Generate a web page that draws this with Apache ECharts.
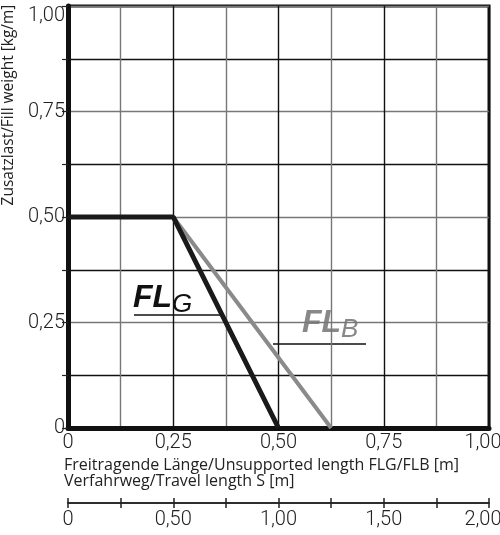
<!DOCTYPE html>
<html>
<head>
<meta charset="utf-8">
<script src="https://cdn.jsdelivr.net/npm/echarts@6/dist/echarts.min.js"></script>
<style>
  html, body { margin: 0; padding: 0; background: #fff; }
  #chart { width: 500px; height: 535px; }
</style>
</head>
<body>
<div id="chart"></div>
<script>
// FL_G (black) and FL_B (gray) curves
const flgX = [0, 0.25, 0.5];
const flgY = [0.5, 0.5, 0];
const flbX = [0.25, 0.625];
const flbY = [0.5, 0];

const xTickLabels = ['0', '0,25', '0,50', '0,75', '1,00'];
const yTickLabels = ['0', '0,25', '0,50', '0,75', '1,00'];
const travelTickLabels = ['0', '0,50', '1,00', '1,50', '2,00'];

const numFont = 'Roboto';

// label only every second tick (ticks are at eighths); last one nudged left
function pick(labels, step, nudgeLast) {
  return function (v) {
    let i = Math.round(v / step);
    if (i % 2 !== 0) return '';
    let k = i / 2;
    let s = labels[k] || '';
    if (nudgeLast && k === labels.length - 1) return '{r|' + s + '}';
    return s;
  };
}

const numLabel = { color: '#222', fontFamily: numFont, fontWeight: 300, fontSize: 20 };
const lastRich = { r: Object.assign({ padding: [0, 12, 0, 0] }, numLabel) };

let chart = echarts.init(document.getElementById('chart'));

chart.setOption({
  animation: false,
  grid: [
    { left: 68, right: 11, top: 6, bottom: 107, outerBoundsMode: 'none', show: true, borderColor: '#111', borderWidth: 3, backgroundColor: 'transparent' },
    { left: 68, right: 11, top: 502, height: 1, outerBoundsMode: 'none' }
  ],
  xAxis: [
    {
      gridIndex: 0, type: 'value', min: 0, max: 1, interval: 0.125,
      axisLine: { onZero: false, lineStyle: { color: '#111', width: 5 } },
      axisTick: { show: false },
      axisLabel: Object.assign({ interval: 0, formatter: pick(xTickLabels, 0.125, true), margin: 5, rich: lastRich }, numLabel),
      splitLine: { show: true, lineStyle: { color: ['#111', '#777'], width: 1.4 } }
    },
    {
      gridIndex: 1, type: 'value', min: 0, max: 2, interval: 0.25,
      axisLine: { lineStyle: { color: '#222', width: 1.5 } },
      axisTick: { inside: true, length: 5, lineStyle: { color: '#222', width: 1.5 } },
      axisLabel: { show: false },
      splitLine: { show: false }
    },
    {
      gridIndex: 1, type: 'value', min: 0, max: 2, interval: 0.25, position: 'bottom',
      axisLine: { lineStyle: { color: '#222', width: 1.5 } },
      axisTick: { length: 5, lineStyle: { color: '#222', width: 1.5 } },
      axisLabel: Object.assign({ interval: 0, formatter: pick(travelTickLabels, 0.25, true), margin: 7, rich: lastRich }, numLabel),
      splitLine: { show: false }
    }
  ],
  yAxis: [
    {
      gridIndex: 0, type: 'value', min: 0, max: 1, interval: 0.125,
      axisLine: { onZero: false, lineStyle: { color: '#111', width: 5 } },
      axisTick: { show: true, length: 6, lineStyle: { color: '#222', width: 1.2 } },
      axisLabel: Object.assign({ interval: 0, formatter: pick(yTickLabels, 0.125, false), margin: 3, verticalAlignMaxLabel: 'top' }, numLabel),
      splitLine: { show: true, lineStyle: { color: ['#777', '#111'], width: 1.4 } }
    },
    { gridIndex: 1, show: false, min: 0, max: 1 }
  ],
  series: [
    {
      name: 'FLB', type: 'line', xAxisIndex: 0, yAxisIndex: 0,
      data: flbX.map((x, i) => [x, flbY[i]]),
      symbol: 'none', lineStyle: { color: '#8a8a8a', width: 4 }
    },
    {
      name: 'FLG', type: 'line', xAxisIndex: 0, yAxisIndex: 0,
      data: flgX.map((x, i) => [x, flgY[i]]),
      symbol: 'none', lineStyle: { color: '#1a1a1a', width: 5 }
    }
  ],
  graphic: [
    {
      type: 'text', x: 9, y: 105, rotation: Math.PI / 2,
      style: { text: 'Zusatzlast/Fill weight [kg/m]', fill: '#222', font: '15.5px "Open Sans"', align: 'center', verticalAlign: 'middle' }
    },
    {
      type: 'text', x: 64, y: 457,
      style: { text: 'Freitragende Länge/Unsupported length FLG/FLB [m]', fill: '#222', font: '16px "Open Sans"' }
    },
    {
      type: 'text', x: 64, y: 473,
      style: { text: 'Verfahrweg/Travel length S [m]', fill: '#222', font: '16px "Open Sans"' }
    },
    {
      type: 'text', x: 133, y: 278,
      style: {
        text: '{a|FL}{b|G}', fill: '#111',
        rich: {
          a: { font: 'italic bold 32px "Liberation Sans"', fill: '#111' },
          b: { font: 'italic 26px "Liberation Sans"', fill: '#111', padding: [14, 0, 0, 0] }
        }
      }
    },
    { type: 'line', shape: { x1: 134, y1: 315, x2: 221, y2: 315 }, style: { stroke: '#111', lineWidth: 1.3 } },
    {
      type: 'text', x: 302, y: 303,
      style: {
        text: '{a|FL}{b|B}', fill: '#888',
        rich: {
          a: { font: 'italic bold 32px "Liberation Sans"', fill: '#888' },
          b: { font: 'italic 26px "Liberation Sans"', fill: '#888', padding: [14, 0, 0, 0] }
        }
      }
    },
    { type: 'line', shape: { x1: 273, y1: 344, x2: 366, y2: 344 }, style: { stroke: '#111', lineWidth: 1.3 } }
  ]
});
</script>
</body>
</html>
